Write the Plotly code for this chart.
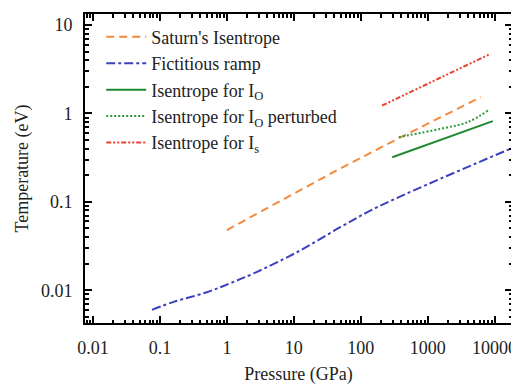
import plotly.graph_objects as go

# Data
saturn_P = [1, 45, 400, 6200]
saturn_T = [0.048, 0.23, 0.54, 1.53]

ramp_P = [0.076, 0.16, 0.5, 1.12, 2.5, 11.2, 50, 160, 1000, 17400]
ramp_T = [0.0060, 0.0074, 0.0095, 0.012, 0.0155, 0.027, 0.052, 0.084, 0.158, 0.40]

io_P = [295, 1500, 9400]
io_T = [0.32, 0.50, 0.82]

iop_P = [370, 1550, 4000, 8300]
iop_T = [0.54, 0.67, 0.80, 1.10]

is_P = [209, 8700]
is_T = [1.23, 4.73]

x_tickvals = [0.01, 0.1, 1, 10, 100, 1000, 10000]
x_ticktext = ["0.01", "0.1", "1", "10", "100", "1000", "10000"]
y_tickvals = [0.01, 0.1, 1, 10]
y_ticktext = ["0.01", "0.1", "1", "10"]

def minor_vals(lo, hi):
    vals = []
    for e in range(lo, hi + 1):
        for m in range(2, 10):
            vals.append(m * 10.0 ** e)
    return vals

fig = go.Figure()
fig.add_trace(go.Scatter(x=saturn_P, y=saturn_T, mode="lines", name="Saturn's Isentrope",
                         line=dict(color="#f5893a", width=2, dash="8px,5px")))
fig.add_trace(go.Scatter(x=ramp_P, y=ramp_T, mode="lines", name="Fictitious ramp",
                         line=dict(color="#3c40bc", width=2, dash="dashdot"), line_shape="spline"))
fig.add_trace(go.Scatter(x=io_P, y=io_T, mode="lines", name="Isentrope for I<sub>O</sub>",
                         line=dict(color="#1f8a30", width=2)))
fig.add_trace(go.Scatter(x=iop_P, y=iop_T, mode="lines", name="Isentrope for I<sub>O</sub> perturbed",
                         line=dict(color="#2e9c3c", width=2, dash="2px,2px"), line_shape="spline"))
fig.add_trace(go.Scatter(x=is_P, y=is_T, mode="lines", name="Isentrope for I<sub>s</sub>",
                         line=dict(color="#ee4030", width=2, dash="5px,2px,2px,2px,2px,2px")))

serif = "Liberation Serif"
axis_common = dict(type="log", showgrid=False, zeroline=False, showline=True, linecolor="black",
                   linewidth=2, mirror="allticks", ticks="inside", ticklen=7, tickwidth=1.5,
                   tickcolor="black", tickfont=dict(family=serif, size=18, color="#222"),
                   tickmode="array", automargin=False)

fig.update_xaxes(**axis_common, range=[-2.12, 4.26], tickvals=x_tickvals, ticktext=x_ticktext,
                 minor=dict(ticks="inside", ticklen=3.5, tickcolor="black", tickmode="array",
                            tickvals=minor_vals(-3, 4), showgrid=False),
                 ticklabelstandoff=7,
                 title=dict(text="Pressure (GPa)", font=dict(family=serif, size=18, color="#222"),
                            standoff=12))
fig.update_yaxes(**axis_common, range=[-2.37, 1.125], tickvals=y_tickvals, ticktext=y_ticktext,
                 minor=dict(ticks="inside", ticklen=3.5, tickcolor="black", tickmode="array",
                            tickvals=minor_vals(-3, 1), showgrid=False),
                 ticklabelstandoff=7,
                 title=dict(text="Temperature (eV)", font=dict(family=serif, size=18, color="#222"),
                            standoff=8))

fig.update_layout(
    width=511, height=377,
    margin=dict(l=77, r=7, t=6, b=62),
    paper_bgcolor="white", plot_bgcolor="white",
    showlegend=True,
    legend=dict(x=0.038, y=0.985, xanchor="left", yanchor="top", bgcolor="rgba(0,0,0,0)",
                font=dict(family=serif, size=18, color="#222"), itemwidth=40,
                tracegroupgap=0),
)

fig.write_html("out.html")
